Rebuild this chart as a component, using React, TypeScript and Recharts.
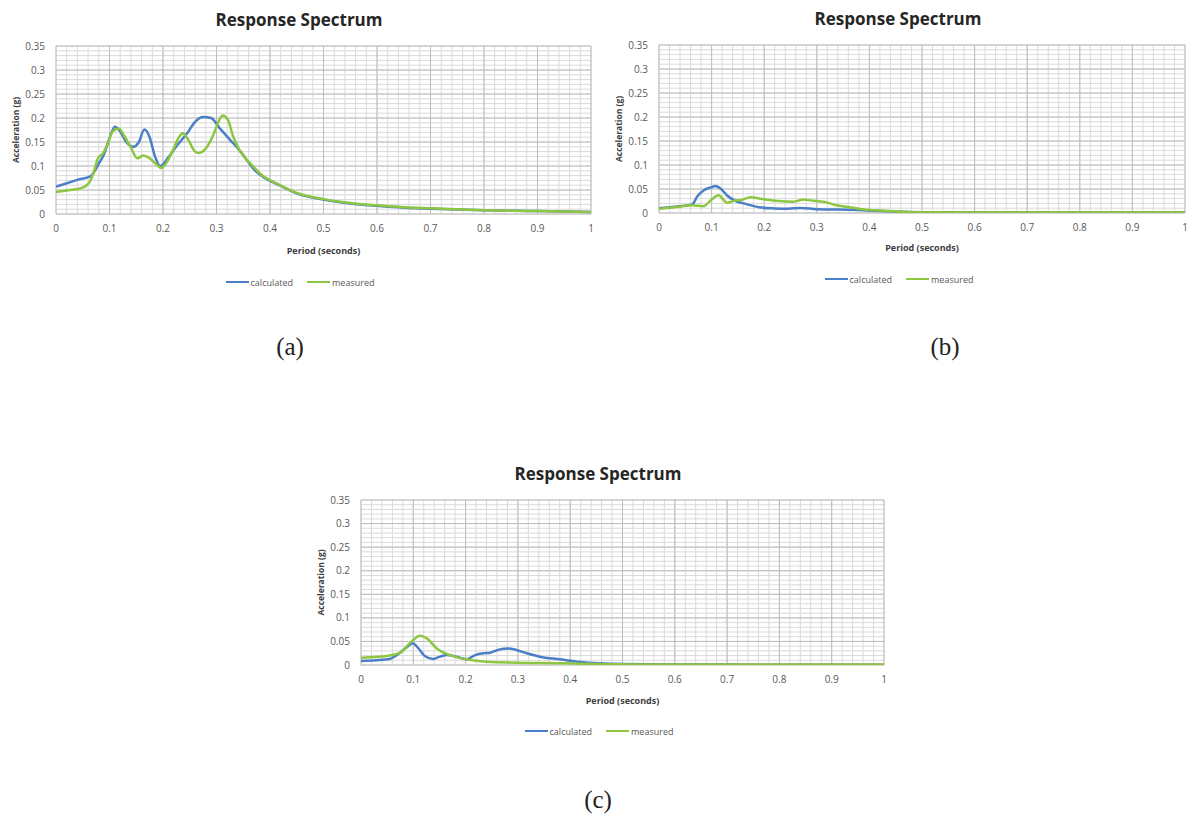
import React from 'react';
import { LineChart, Line, XAxis, YAxis, CartesianGrid } from 'recharts';

// ---------- tick labels / grid values ----------
const periodTicks = [0, 0.1, 0.2, 0.3, 0.4, 0.5, 0.6, 0.7, 0.8, 0.9, 1];
const accelTicks = [0, 0.05, 0.1, 0.15, 0.2, 0.25, 0.3, 0.35];
const periodMinor = [0, 0.02, 0.04, 0.06, 0.08, 0.1, 0.12, 0.14, 0.16, 0.18, 0.2, 0.22, 0.24, 0.26, 0.28, 0.3, 0.32, 0.34, 0.36, 0.38, 0.4, 0.42, 0.44, 0.46, 0.48, 0.5, 0.52, 0.54, 0.56, 0.58, 0.6, 0.62, 0.64, 0.66, 0.68, 0.7, 0.72, 0.74, 0.76, 0.78, 0.8, 0.82, 0.84, 0.86, 0.88, 0.9, 0.92, 0.94, 0.96, 0.98, 1];
const accelMinor = [0, 0.01, 0.02, 0.03, 0.04, 0.05, 0.06, 0.07, 0.08, 0.09, 0.1, 0.11, 0.12, 0.13, 0.14, 0.15, 0.16, 0.17, 0.18, 0.19, 0.2, 0.21, 0.22, 0.23, 0.24, 0.25, 0.26, 0.27, 0.28, 0.29, 0.3, 0.31, 0.32, 0.33, 0.34, 0.35];
const seriesNames = ['calculated', 'measured'];

// ---------- (a) ----------
const aCalcPeriod = [0, 0.02, 0.04, 0.065, 0.08, 0.09, 0.1, 0.11, 0.12, 0.13, 0.145, 0.155, 0.165, 0.175, 0.185, 0.195, 0.21, 0.225, 0.245, 0.26, 0.275, 0.29, 0.305, 0.325, 0.345, 0.37, 0.39, 0.41, 0.45, 0.5, 0.55, 0.6, 0.65, 0.7, 0.8, 0.9, 1.0];
const aCalcAccel = [0.057, 0.064, 0.071, 0.079, 0.105, 0.125, 0.158, 0.182, 0.172, 0.152, 0.14, 0.15, 0.176, 0.16, 0.12, 0.1, 0.118, 0.141, 0.168, 0.192, 0.202, 0.2, 0.18, 0.155, 0.13, 0.093, 0.075, 0.064, 0.043, 0.03, 0.022, 0.017, 0.013, 0.011, 0.008, 0.006, 0.004];
const aMeasPeriod = [0, 0.02, 0.04, 0.055, 0.063, 0.07, 0.078, 0.088, 0.097, 0.106, 0.117, 0.128, 0.141, 0.152, 0.163, 0.175, 0.187, 0.197, 0.206, 0.219, 0.231, 0.237, 0.247, 0.259, 0.267, 0.278, 0.293, 0.303, 0.311, 0.321, 0.331, 0.343, 0.362, 0.387, 0.41, 0.45, 0.5, 0.55, 0.6, 0.65, 0.7, 0.8, 0.9, 1.0];
const aMeasAccel = [0.046, 0.049, 0.052, 0.058, 0.067, 0.085, 0.115, 0.127, 0.148, 0.172, 0.178, 0.162, 0.136, 0.116, 0.122, 0.116, 0.104, 0.096, 0.106, 0.134, 0.162, 0.168, 0.155, 0.131, 0.127, 0.134, 0.162, 0.19, 0.205, 0.197, 0.162, 0.133, 0.107, 0.079, 0.065, 0.044, 0.031, 0.023, 0.018, 0.014, 0.012, 0.008, 0.006, 0.004];

// ---------- (b) ----------
const bCalcPeriod = [0, 0.03, 0.063, 0.073, 0.086, 0.1, 0.107, 0.118, 0.13, 0.146, 0.165, 0.19, 0.22, 0.245, 0.27, 0.3, 0.34, 0.38, 0.42, 0.46, 0.5, 0.6, 0.7, 0.8, 0.9, 1.0];
const bCalcAccel = [0.01, 0.013, 0.018, 0.035, 0.048, 0.054, 0.056, 0.05, 0.036, 0.025, 0.019, 0.012, 0.0095, 0.0088, 0.0105, 0.0078, 0.0072, 0.006, 0.004, 0.0025, 0.0015, 0.001, 0.001, 0.001, 0.001, 0.001];
const bMeasPeriod = [0, 0.03, 0.063, 0.084, 0.1, 0.113, 0.13, 0.144, 0.156, 0.174, 0.196, 0.226, 0.256, 0.275, 0.29, 0.315, 0.337, 0.36, 0.39, 0.42, 0.48, 0.6, 0.7, 0.8, 0.9, 1.0];
const bMeasAccel = [0.009, 0.012, 0.016, 0.014, 0.028, 0.037, 0.021, 0.026, 0.027, 0.033, 0.029, 0.025, 0.0235, 0.028, 0.026, 0.023, 0.016, 0.0125, 0.0075, 0.005, 0.0018, 0.001, 0.001, 0.001, 0.001, 0.001];

// ---------- (c) ----------
const cCalcPeriod = [0, 0.03, 0.055, 0.068, 0.087, 0.099, 0.11, 0.122, 0.138, 0.151, 0.164, 0.183, 0.202, 0.218, 0.234, 0.247, 0.262, 0.282, 0.297, 0.317, 0.342, 0.38, 0.418, 0.457, 0.5, 0.6, 0.7, 0.8, 0.9, 1.0];
const cCalcAccel = [0.0085, 0.01, 0.0127, 0.021, 0.037, 0.046, 0.035, 0.019, 0.0127, 0.0177, 0.021, 0.0177, 0.012, 0.021, 0.025, 0.026, 0.032, 0.035, 0.032, 0.025, 0.0177, 0.012, 0.0064, 0.0035, 0.002, 0.001, 0.0008, 0.0006, 0.0005, 0.0005];
const cMeasPeriod = [0, 0.049, 0.075, 0.094, 0.113, 0.125, 0.145, 0.17, 0.202, 0.24, 0.297, 0.393, 0.457, 0.5, 0.6, 0.7, 0.8, 0.9, 1.0];
const cMeasAccel = [0.0156, 0.019, 0.026, 0.047, 0.062, 0.057, 0.035, 0.021, 0.012, 0.007, 0.005, 0.0035, 0.002, 0.0015, 0.001, 0.001, 0.001, 0.001, 0.001];

const zip = (ts: number[], vs: number[]) => ts.map((t, i) => ({ t, v: vs[i] }));

const BLUE = '#4A7EC6';
const GREEN = '#8DC641';
const TICK = '#595959';
const FONT = '"Open Sans", "Liberation Sans", sans-serif';

type PanelProps = {
  left: number; top: number; width: number; height: number;
  margin: { top: number; right: number; bottom: number; left: number };
  calc: { t: number; v: number }[];
  meas: { t: number; v: number }[];
  xLabelOffset: number;
};

function Panel(p: PanelProps) {
  return (
    <div style={{ position: 'absolute', left: p.left, top: p.top }}>
      <LineChart width={p.width} height={p.height} margin={p.margin}>
        <CartesianGrid verticalValues={periodMinor} horizontalValues={accelMinor} stroke="#dadada" strokeWidth={1} />
        <CartesianGrid verticalValues={periodTicks} horizontalValues={accelTicks} stroke="#bdbdbd" strokeWidth={1} />
        <XAxis
          dataKey="t" type="number" domain={[0, 1]} ticks={periodTicks} allowDataOverflow
          axisLine={false} tickLine={false} tickMargin={5} height={40} interval={0}
          tick={{ fill: TICK, fontSize: 10, fontFamily: FONT }}
          label={{
            content: (lp: any) => {
              const vb = lp.viewBox || { x: 0, y: 0, width: 0, height: 0 };
              return (
                <text x={vb.x + vb.width / 2} y={vb.y + p.xLabelOffset} textAnchor="middle" dominantBaseline="central"
                  fontSize={9} fontWeight={700} fill="#404040" fontFamily={FONT}>Period (seconds)</text>
              );
            },
          }}
        />
        <YAxis
          type="number" domain={[0, 0.35]} ticks={accelTicks} allowDataOverflow
          axisLine={false} tickLine={false} tickMargin={5} width={46} interval={0}
          tick={{ fill: TICK, fontSize: 10, fontFamily: FONT }}
          label={{
            content: (lp: any) => {
              const vb = lp.viewBox || { x: 0, y: 0, width: 0, height: 0 };
              const cx = vb.x + 5;
              const cy = vb.y + vb.height / 2;
              return (
                <text x={cx} y={cy} transform={`rotate(-90 ${cx} ${cy})`} textAnchor="middle" dominantBaseline="central"
                  fontSize={8.5} fontWeight={700} fill="#404040" fontFamily={FONT}>Acceleration (g)</text>
              );
            },
          }}
        />
        <Line data={p.calc} dataKey="v" name={seriesNames[0]} type="monotone" stroke={BLUE} strokeWidth={2.5} dot={false} isAnimationActive={false} />
        <Line data={p.meas} dataKey="v" name={seriesNames[1]} type="monotone" stroke={GREEN} strokeWidth={2.5} dot={false} isAnimationActive={false} />
      </LineChart>
    </div>
  );
}

function Title({ cx, cy }: { cx: number; cy: number }) {
  return (
    <div style={{ position: 'absolute', left: cx - 150, top: cy - 12, width: 300, height: 24, lineHeight: '24px', textAlign: 'center', fontFamily: FONT, fontWeight: 700, fontSize: 17, color: '#262626' }}>
      Response Spectrum
    </div>
  );
}

function LegendBox({ cx, cy }: { cx: number; cy: number }) {
  const item = (color: string, label: string) => (
    <span style={{ display: 'inline-flex', alignItems: 'center', marginRight: 14 }}>
      <span style={{ display: 'inline-block', width: 23, height: 2.5, background: color, marginRight: 2 }} />
      <span>{label}</span>
    </span>
  );
  return (
    <div style={{ position: 'absolute', left: cx - 150, top: cy - 8, width: 300, height: 16, display: 'flex', justifyContent: 'center', alignItems: 'center', fontFamily: FONT, fontSize: 9, color: TICK }}>
      {item(BLUE, seriesNames[0])}
      {item(GREEN, seriesNames[1])}
    </div>
  );
}

function Caption({ cx, cy, text }: { cx: number; cy: number; text: string }) {
  return (
    <div style={{ position: 'absolute', left: cx - 40, top: cy - 15, width: 80, height: 30, lineHeight: '30px', textAlign: 'center', fontFamily: '"Liberation Serif", "DejaVu Serif", serif', fontSize: 25, color: '#222' }}>
      {text}
    </div>
  );
}

export default function App() {
  return (
    <div style={{ position: 'absolute', left: 0, top: 0, width: 1187, height: 819, background: '#fff', overflow: 'hidden' }}>
      {/* (a) */}
      <Title cx={299} cy={20} />
      <Panel left={0} top={0} width={600} height={260} margin={{ top: 46, right: 9, bottom: 6, left: 10 }}
        calc={zip(aCalcPeriod, aCalcAccel)} meas={zip(aMeasPeriod, aMeasAccel)} xLabelOffset={36} />
      <LegendBox cx={307} cy={282} />
      <Caption cx={290} cy={347} text="(a)" />

      {/* (b) */}
      <Title cx={898} cy={19} />
      <Panel left={600} top={0} width={588} height={260} margin={{ top: 45, right: 3, bottom: 7, left: 13 }}
        calc={zip(bCalcPeriod, bCalcAccel)} meas={zip(bMeasPeriod, bMeasAccel)} xLabelOffset={34} />
      <LegendBox cx={906} cy={279} />
      <Caption cx={945} cy={347} text="(b)" />

      {/* (c) */}
      <Title cx={598} cy={474} />
      <Panel left={300} top={450} width={600} height={260} margin={{ top: 50, right: 16, bottom: 5, left: 15 }}
        calc={zip(cCalcPeriod, cCalcAccel)} meas={zip(cMeasPeriod, cMeasAccel)} xLabelOffset={35} />
      <LegendBox cx={606} cy={731} />
      <Caption cx={598} cy={800} text="(c)" />
    </div>
  );
}
